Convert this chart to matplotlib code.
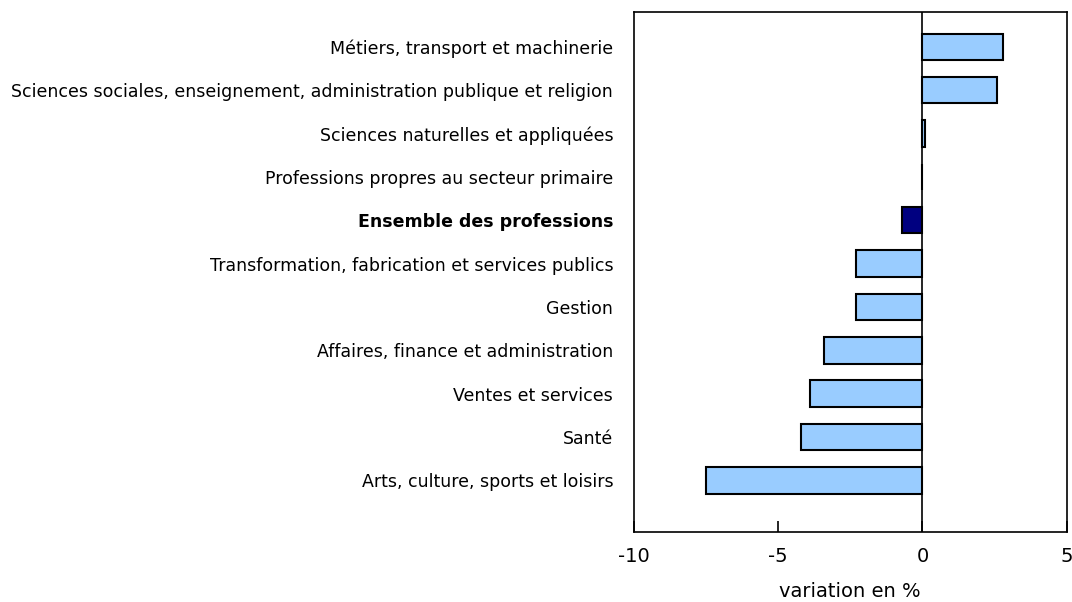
import numpy as np
import matplotlib.pyplot as plt

# variation en % par grande catégorie professionnelle
categories = [
    "Métiers, transport et machinerie",
    "Sciences sociales, enseignement, administration publique et religion",
    "Sciences naturelles et appliquées",
    "Professions propres au secteur primaire",
    "Ensemble des professions",
    "Transformation, fabrication et services publics",
    "Gestion",
    "Affaires, finance et administration",
    "Ventes et services",
    "Santé",
    "Arts, culture, sports et loisirs",
]
values = [2.8, 2.6, 0.1, 0.0, -0.7, -2.3, -2.3, -3.4, -3.9, -4.2, -7.5]
total_label = "Ensemble des professions"

fig = plt.figure(figsize=(10.72, 6.02), dpi=100)
ax = fig.add_axes([0.5914, 0.1163, 0.4036, 0.8637])

ypos = np.arange(len(categories))[::-1]
colors = ['#000080' if c == total_label else '#99ccff' for c in categories]
ax.barh(ypos, values, height=0.61, color=colors, edgecolor='black', linewidth=1.5, zorder=2)
ax.axvline(0, color='black', linewidth=1.2, zorder=3)

ax.set_xlim(-10, 5)
ax.set_ylim(-1.19, 10.8)
ax.set_xticks([-10, -5, 0, 5])
ax.set_xticklabels(["-10", "-5", "0", "5"], fontsize=14)
ax.tick_params(axis='x', direction='in', length=8, width=1.2, pad=11)
ax.set_yticks(ypos)
ax.set_yticklabels(categories, fontsize=12.5)
ax.tick_params(axis='y', length=0, pad=15)
for lbl in ax.get_yticklabels():
    if lbl.get_text() == total_label:
        lbl.set_fontweight('bold')

for s in ax.spines.values():
    s.set_linewidth(1.2)

ax.set_xlabel("variation en %", fontsize=14, labelpad=11)

plt.savefig("out.png", dpi=100)
